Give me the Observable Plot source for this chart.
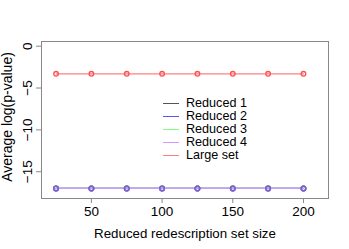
<!DOCTYPE html>
<html><head><meta charset="utf-8">
<script src="https://cdn.jsdelivr.net/npm/d3@7"></script>
<script src="https://cdn.jsdelivr.net/npm/@observablehq/plot@0.6"></script>
<style>
body{margin:0;background:#fff;font-family:"Liberation Sans",Arial,sans-serif;}
#wrap{position:relative;width:349px;height:249px;}
#legend{position:absolute;left:163px;top:97px;font-size:12.6px;line-height:13px;color:#000;}
#legend div{display:flex;align-items:center;height:13px;}
#legend span.sw{display:inline-block;width:16px;height:0;border-top:1.3px solid;margin-right:7px;}
</style></head>
<body><div id="wrap"><div id="chart"></div><div id="legend"></div></div>
<script>
const sizes = [25, 50, 75, 100, 125, 150, 175, 200];
const seriesNames = ["Reduced 1", "Reduced 2", "Reduced 3", "Reduced 4", "Large set"];
const lineColors = ["#555555", "#5555ff", "#80ff80", "#cc99ff", "#ff8080"];
const dotColors = ["#555555", "#4444ff", "#55ee55", "#9050e8", "#ff5050"];
const reduced1 = [-17, -17, -17, -17, -17, -17, -17, -17];
const reduced2 = [-17, -17, -17, -17, -17, -17, -17, -17];
const reduced3 = [-17, -17, -17, -17, -17, -17, -17, -17];
const reduced4 = [-17, -17, -17, -17, -17, -17, -17, -17];
const largeSet = [-3.3, -3.3, -3.3, -3.3, -3.3, -3.3, -3.3, -3.3];
const xTicks = [50, 100, 150, 200];
const yTicks = [0, -5, -10, -15];

const allSeries = [reduced1, reduced2, reduced3, reduced4, largeSet];
const rows = [];
allSeries.forEach((vals, i) => vals.forEach((v, j) => rows.push({series: seriesNames[i], x: sizes[j], y: v})));
const font = '"Liberation Sans", Arial, sans-serif';

const chart = Plot.plot({
  width: 349, height: 249,
  marginLeft: 41, marginRight: 21, marginTop: 41, marginBottom: 51,
  style: {fontFamily: font, fontSize: "13px", background: "#fff", color: "#000"},
  x: {domain: [14.7, 217.7]},
  y: {domain: [-18.2, 0.56]},
  marks: [
    Plot.frame({stroke: "#888", strokeWidth: 1}),
    Plot.axisX({ticks: xTicks, tickSize: 5, tickPadding: 3, fontSize: 13.5, label: null, stroke: "#888"}),
    Plot.axisY({ticks: yTicks, tickSize: 5, tickPadding: 5, tickRotate: -90, fontSize: 13.5, label: null, stroke: "#888"}),
    Plot.text(["Reduced redescription set size"], {frameAnchor: "bottom", dy: 35, fontSize: 13.3, lineAnchor: "middle"}),
    Plot.text(["Average log(p-value)"], {frameAnchor: "left", dx: -34, dy: -3, rotate: -90, fontSize: 14, textAnchor: "middle", lineAnchor: "middle"}),
    Plot.line(rows, {x: "x", y: "y", z: "series", stroke: d => lineColors[seriesNames.indexOf(d.series)], strokeWidth: 1.3}),
    Plot.dot(rows, {x: "x", y: "y", stroke: d => dotColors[seriesNames.indexOf(d.series)], r: 2.3, strokeWidth: 1.3})
  ]
});
document.getElementById("chart").appendChild(chart);

const leg = document.getElementById("legend");
seriesNames.forEach((n, i) => {
  const d = document.createElement("div");
  const sw = document.createElement("span");
  sw.className = "sw";
  sw.style.borderColor = lineColors[i];
  d.appendChild(sw);
  d.appendChild(document.createTextNode(n));
  leg.appendChild(d);
});
</script></body></html>
